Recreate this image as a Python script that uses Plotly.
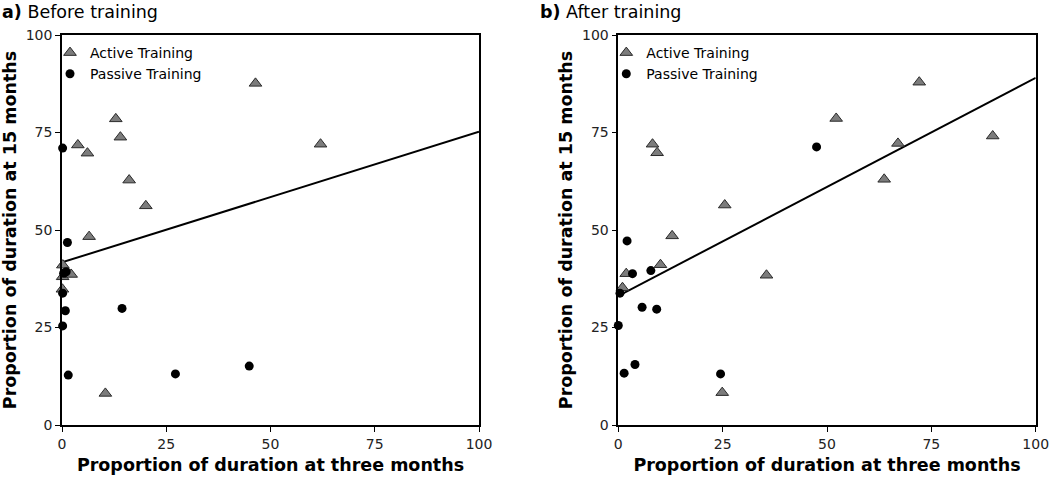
import plotly.graph_objects as go

# ---------------- data ----------------
# Panel a) Before training
a_active_x = [46.4, 62.0, 12.9, 14.0, 3.8, 6.1, 16.1, 20.1, 6.5, 0.2, 0.15, 2.2, 0.1, 10.4]
a_active_y = [87.6, 72.0, 78.5, 73.8, 71.8, 69.7, 62.8, 56.2, 48.3, 41.0, 38.0, 38.6, 34.8, 8.1]
a_passive_x = [0.15, 1.3, 0.4, 1.0, 0.15, 0.8, 0.15, 14.4, 1.5, 27.2, 44.9]
a_passive_y = [71.0, 46.8, 38.9, 39.3, 33.8, 29.3, 25.4, 29.9, 12.8, 13.1, 15.1]
a_fit = (41.7, 0.335)   # intercept, slope

# Panel b) After training
b_active_x = [72.1, 89.7, 52.2, 8.2, 9.3, 67.0, 63.7, 25.5, 12.9, 10.1, 35.5, 1.9, 1.0, 24.9]
b_active_y = [87.9, 74.1, 78.6, 72.0, 69.8, 72.2, 63.0, 56.4, 48.5, 41.1, 38.4, 38.8, 35.2, 8.3]
b_passive_x = [47.5, 2.1, 3.4, 7.8, 0.4, 5.7, 9.2, 0.0, 1.4, 4.0, 24.5]
b_passive_y = [71.3, 47.2, 38.8, 39.6, 33.8, 30.2, 29.7, 25.5, 13.3, 15.5, 13.1]
b_fit = (33.1, 0.559)

fit_x = [0, 100]
tick_vals = [0, 25, 50, 75, 100]
panel_titles = ["<b>a)</b> Before training", "<b>b)</b> After training"]
x_title = "Proportion of duration at three months"
y_title = "Proportion of duration at 15 months"

FONT = "DejaVu Sans"
W, H = 1050, 478

fig = go.Figure()

panels = [
    (a_active_x, a_active_y, a_passive_x, a_passive_y, a_fit, "x", "y", "legend"),
    (b_active_x, b_active_y, b_passive_x, b_passive_y, b_fit, "x2", "y2", "legend2"),
]
for ax_x, ax_y, px_, py_, fit, xa, ya, lg in panels:
    fig.add_trace(go.Scatter(
        x=fit_x, y=[fit[0] + fit[1] * v for v in fit_x], mode="lines",
        line=dict(color="black", width=2), showlegend=False,
        xaxis=xa, yaxis=ya, cliponaxis=False, hoverinfo="skip"))
    fig.add_trace(go.Scatter(
        x=ax_x, y=ax_y, mode="markers", name="Active Training",
        marker=dict(symbol="triangle-up", size=11, color="#7c7c7c",
                    line=dict(color="#2a2a2a", width=1)),
        xaxis=xa, yaxis=ya, cliponaxis=False, legend=lg))
    fig.add_trace(go.Scatter(
        x=px_, y=py_, mode="markers", name="Passive Training",
        marker=dict(symbol="circle", size=9, color="black",
                    line=dict(color="black", width=0)),
        xaxis=xa, yaxis=ya, cliponaxis=False, legend=lg))

y_dom = [1 - 425 / H, 1 - 35 / H]
x_doms = [[62 / W, 479 / W], [618.3 / W, 1035.7 / W]]

axis_common = dict(
    range=[0, 100], tickvals=tick_vals, showgrid=False, zeroline=False,
    showline=True, linecolor="black", linewidth=1.5, mirror=True,
    ticks="outside", ticklen=5, tickwidth=1.2, tickcolor="black",
    tickfont=dict(family=FONT, size=14, color="#222"), automargin=False,
)
title_font = dict(family=FONT, size=17.5, color="black")

fig.update_layout(
    width=W, height=H, margin=dict(l=0, r=0, t=0, b=0),
    paper_bgcolor="white", plot_bgcolor="white",
    font=dict(family=FONT, color="black"),
    xaxis=dict(domain=x_doms[0], anchor="y", **axis_common,
               title=dict(text=f"<b>{x_title}</b>", font=title_font, standoff=8)),
    yaxis=dict(domain=y_dom, anchor="x", **axis_common,
               title=dict(text=f"<b>{y_title}</b>", font=title_font, standoff=5)),
    xaxis2=dict(domain=x_doms[1], anchor="y2", **axis_common,
                title=dict(text=f"<b>{x_title}</b>", font=title_font, standoff=8)),
    yaxis2=dict(domain=y_dom, anchor="x2", **axis_common,
                title=dict(text=f"<b>{y_title}</b>", font=title_font, standoff=5)),
    legend=dict(x=(62 - 12) / W, y=1 - 37 / H, xanchor="left", yanchor="top",
                bgcolor="rgba(0,0,0,0)", font=dict(family=FONT, size=14, color="black"),
                itemwidth=30, tracegroupgap=0),
    legend2=dict(x=(618.3 - 12) / W, y=1 - 37 / H, xanchor="left", yanchor="top",
                 bgcolor="rgba(0,0,0,0)", font=dict(family=FONT, size=14, color="black"),
                 itemwidth=30, tracegroupgap=0),
    showlegend=True,
)

for i, t in enumerate(panel_titles):
    fig.add_annotation(text=t, x=[0, 538 / W][i], y=1, xref="paper", yref="paper",
                       xanchor="left", yanchor="top", showarrow=False,
                       font=dict(family=FONT, size=17.5, color="black"))

fig.write_html("out.html", config={"displayModeBar": False},
               post_script="document.body.style.margin='0';")
